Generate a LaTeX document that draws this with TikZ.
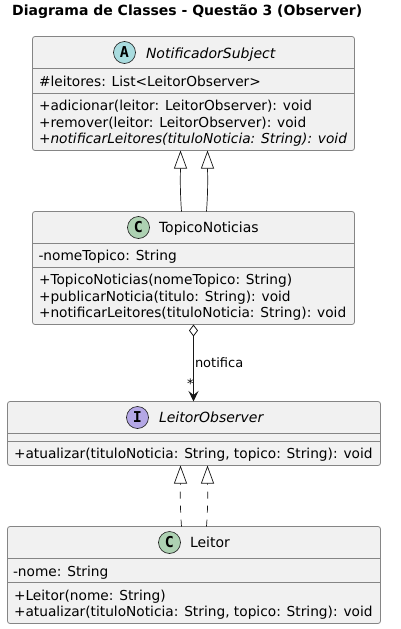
\documentclass[tikz,border=0pt]{standalone}
\usepackage{fontspec}
\setmainfont{DejaVu Sans}
\newfontfamily\glyphfont{DejaVu Sans Mono}
\usetikzlibrary{arrows.meta,calc}
\definecolor{boxfill}{HTML}{F1F1F1}
\definecolor{boxline}{HTML}{858585}
\definecolor{linecol}{HTML}{181818}
\tikzset{
  umlbox/.style={draw=boxline,fill=boxfill,line width=0.8pt,rounded corners=2.5pt,inner sep=0pt,outer sep=0pt},
  divider/.style={draw=boxline,line width=0.8pt},
  member/.style={anchor=base west,inner sep=0pt,outer sep=0pt,font=\fontsize{13.73}{16}\selectfont,text=black},
  imember/.style={member,font=\fontsize{13.73}{16}\selectfont\itshape},
  classname/.style={member,font=\fontsize{14}{16}\selectfont},
  iclassname/.style={member,font=\fontsize{14}{16}\selectfont\itshape},
  badge/.style={circle,draw=linecol,line width=0.6pt,minimum size=22pt,inner sep=0pt,font=\fontsize{15}{16}\selectfont\glyphfont\bfseries},
  inherit/.style={draw=linecol,line width=0.7pt,-{Triangle[open,length=18pt,width=13pt,fill=white]}},
  realize/.style={inherit,dash pattern=on 7pt off 7pt},
  assoc/.style={draw=linecol,line width=0.8pt,{Diamond[open,length=12pt,width=9pt,fill=white]}-{Stealth[length=10.5pt,width=10pt,inset=4pt]}},
  small/.style={anchor=base west,inner sep=0pt,outer sep=0pt,font=\fontsize{13}{15}\selectfont,text=black}
}
\begin{document}
\begin{tikzpicture}[x=1pt,y=-1pt]
\useasboundingbox (0,0) rectangle (401,629);
\node[anchor=base west,inner sep=0pt,font=\fontsize{14}{16}\selectfont\bfseries] (title) at (12,16) {Diagrama de Classes - Questão 3 (Observer)};

% NotificadorSubject
\node[umlbox,minimum width=322pt,minimum height=114pt] (n) at (193.5,93.5) {};
\draw[divider] (n.west |- 0,68.5) -- (n.east |- 0,68.5);
\draw[divider] (n.west |- 0,93.5) -- (n.east |- 0,93.5);
\node[badge,fill={rgb,255:red,169;green,220;blue,223}] (na) at (124.5,52.5) {A};
\node[iclassname] (nn) at (146,58) {NotificadorSubject};
\node[member] (n1) at (39,86) {\#leitores: List<LeitorObserver>};
\node[member] (n2) at (39,110) {+adicionar(leitor: LeitorObserver): void};
\node[member] (n3) at (39,127) {+remover(leitor: LeitorObserver): void};
\node[imember] (n4) at (39,143) {+notificarLeitores(tituloNoticia: String): void};

% TopicoNoticias
\node[umlbox,minimum width=322pt,minimum height=113pt] (t) at (193.5,268) {};
\draw[divider] (t.west |- 0,243.5) -- (t.east |- 0,243.5);
\draw[divider] (t.west |- 0,267.5) -- (t.east |- 0,267.5);
\node[badge,fill={rgb,255:red,173;green,209;blue,178}] (tc) at (138.5,227.5) {C};
\node[classname] (tn) at (159,232.5) {TopicoNoticias};
\node[member] (t1) at (38.5,260) {-nomeTopico: String};
\node[member] (t2) at (39,284.5) {+TopicoNoticias(nomeTopico: String)};
\node[member] (t3) at (39,301) {+publicarNoticia(titulo: String): void};
\node[member] (t4) at (39,317) {+notificarLeitores(tituloNoticia: String): void};

% LeitorObserver
\node[umlbox,minimum width=373pt,minimum height=64pt] (l) at (194,433.5) {};
\draw[divider] (l.west |- 0,433.5) -- (l.east |- 0,433.5);
\draw[divider] (l.west |- 0,441.5) -- (l.east |- 0,441.5);
\node[badge,fill={rgb,255:red,180;green,167;blue,229}] (li) at (137.5,417.5) {I};
\node[iclassname] (ln) at (159,422) {LeitorObserver};
\node[member] (l1) at (14,458) {+atualizar(tituloNoticia: String, topico: String): void};

% Leitor
\node[umlbox,minimum width=373pt,minimum height=97pt] (r) at (194,575) {};
\draw[divider] (r.west |- 0,558.5) -- (r.east |- 0,558.5);
\draw[divider] (r.west |- 0,582.5) -- (r.east |- 0,582.5);
\node[badge,fill={rgb,255:red,173;green,209;blue,178}] (rc) at (169.5,542.5) {C};
\node[classname] (rn) at (190,547) {Leitor};
\node[member] (r1) at (13,576.5) {-nome: String};
\node[member] (r2) at (14,600) {+Leitor(nome: String)};
\node[member] (r3) at (14,616) {+atualizar(tituloNoticia: String, topico: String): void};

% Connector ends
\coordinate (ta) at ($(t.north west)+(149,0)$);
\coordinate (tb) at ($(t.north west)+(174,0)$);
\coordinate (na1) at ($(n.south west)+(148,0)$);
\coordinate (nb1) at ($(n.south west)+(175,0)$);
\coordinate (ra) at ($(r.north west)+(174,0)$);
\coordinate (rb) at ($(r.north west)+(199,0)$);
\coordinate (la1) at ($(l.south west)+(173,0)$);
\coordinate (lb1) at ($(l.south west)+(200,0)$);

\draw[inherit] (ta) .. controls ($(ta)+(-1.2,-16)$) and ($(na1)+(-0.4,30)$) .. ($(na1)+(0,18)$) -- (na1);
\draw[inherit] (tb) .. controls ($(tb)+(1.2,-16)$) and ($(nb1)+(0.4,30)$) .. ($(nb1)+(0,18)$) -- (nb1);
\draw[realize] (ra) .. controls ($(ra)+(-1.2,-16)$) and ($(la1)+(-0.4,30)$) .. ($(la1)+(0,18)$) -- (la1);
\draw[realize] (rb) .. controls ($(rb)+(1.2,-16)$) and ($(lb1)+(0.4,30)$) .. ($(lb1)+(0,18)$) -- (lb1);
\draw[assoc] ($(t.south west)+(161,0)$) -- ($(l.north west)+(186,0)$);
\node[small] (lab) at (195,367) {notifica};
\node[small] (star) at (187,388.5) {*};
\end{tikzpicture}
\end{document}
